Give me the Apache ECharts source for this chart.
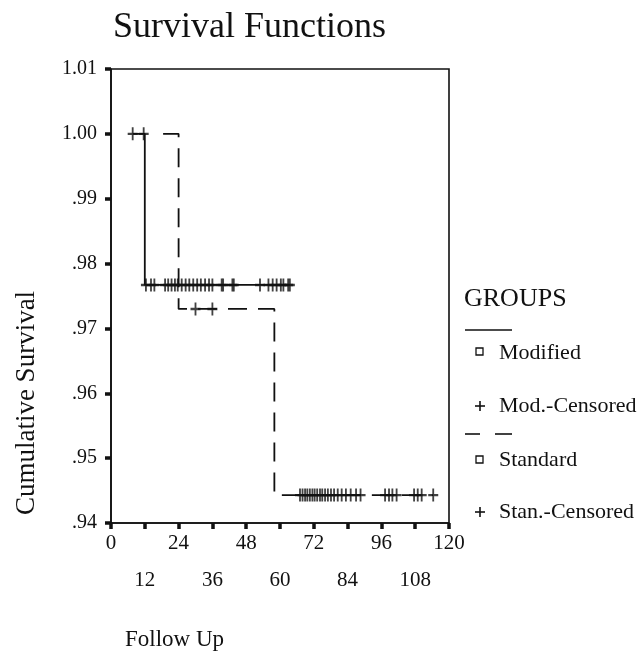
<!DOCTYPE html>
<html>
<head>
<meta charset="utf-8">
<script src="https://cdn.jsdelivr.net/npm/echarts@6/dist/echarts.min.js"></script>
<style>
html,body{margin:0;padding:0;background:#fff;}
#chart{width:641px;height:661px;}
</style>
</head>
<body>
<div id="chart"></div>
<script>
// ---- data ----
const xTicks = [0, 12, 24, 36, 48, 60, 72, 84, 96, 108, 120];
const yTickLabels = ['.94', '.95', '.96', '.97', '.98', '.99', '1.00', '1.01'];
const groupNames = ['Modified', 'Mod.-Censored', 'Standard', 'Stan.-Censored'];

// step curves: times (months) and cumulative survival at/after each time
const modTimes = [7.7, 12, 63.5];
const modSurv  = [1.0, 0.9767, 0.9767];
const stdTimes = [18.5, 24, 58, 114.4];
const stdSurv  = [1.0, 0.973, 0.9443, 0.9443];

// censored observations [time, survival]
const modCensored = [
  [7.7, 1.0], [11.6, 1.0],
  [12.4, 0.9767], [14.2, 0.9767], [15.4, 0.9767], [19.2, 0.9767], [20.3, 0.9767],
  [21.5, 0.9767], [22.7, 0.9767], [23.7, 0.9767], [25.1, 0.9767], [26.5, 0.9767],
  [27.8, 0.9767], [29.2, 0.9767], [30.6, 0.9767], [31.9, 0.9767], [33.4, 0.9767],
  [34.8, 0.9767], [36.0, 0.9767], [39.3, 0.9767], [39.8, 0.9767], [43.1, 0.9767],
  [43.6, 0.9767], [52.9, 0.9767], [55.9, 0.9767], [57.4, 0.9767], [58.8, 0.9767],
  [60.3, 0.9767], [61.2, 0.9767], [62.9, 0.9767], [63.5, 0.9767]
];
const stdCensored = [
  [30.0, 0.973], [36.0, 0.973],
  [67.1, 0.9443], [68.0, 0.9443], [68.9, 0.9443], [69.7, 0.9443], [70.6, 0.9443],
  [71.5, 0.9443], [72.3, 0.9443], [73.2, 0.9443], [74.2, 0.9443], [75.0, 0.9443],
  [76.0, 0.9443], [77.0, 0.9443], [78.1, 0.9443], [79.2, 0.9443], [80.5, 0.9443],
  [81.9, 0.9443], [83.4, 0.9443], [85.1, 0.9443], [87.0, 0.9443], [88.6, 0.9443],
  [97.3, 0.9443], [98.7, 0.9443], [99.9, 0.9443], [101.4, 0.9443], [107.6, 0.9443],
  [108.9, 0.9443], [110.3, 0.9443], [114.4, 0.9443]
];

// ---- build step paths from the curve arrays ----
function stepPoints(times, surv) {
  const pts = [];
  for (let i = 0; i < times.length; i++) {
    if (i > 0) pts.push([times[i], surv[i - 1]]);
    pts.push([times[i], surv[i]]);
  }
  return pts;
}

const INK = '#111111';
const SERIF = '"Liberation Serif", "Times New Roman", serif';
const plusSymbol = 'path://M9,0h4v22h-4z M0,9h22v4h-22z';

const chart = echarts.init(document.getElementById('chart'));
chart.setOption({
  animation: false,
  backgroundColor: '#ffffff',
  title: {
    text: 'Survival Functions',
    left: 108, top: 5,
    textStyle: { fontFamily: SERIF, fontSize: 36, fontWeight: 'normal', color: INK }
  },
  grid: {
    left: 111, top: 69, right: 192, bottom: 138,
    show: true, borderColor: INK, borderWidth: 1.6, backgroundColor: 'transparent'
  },
  xAxis: {
    type: 'value', min: 0, max: 120, interval: 12,
    axisLine: { show: true, lineStyle: { color: INK, width: 1.6 } },
    axisTick: { show: true, length: 6, lineStyle: { color: INK, width: 3.5 } },
    splitLine: { show: false },
    axisLabel: {
      margin: 2,
      fontFamily: SERIF, fontSize: 21, color: INK, lineHeight: 37,
      formatter: function (v) {
        const i = xTicks.indexOf(Math.round(v));
        return (i % 2 === 1 ? '\n' : '') + String(xTicks[i]);
      }
    }
  },
  yAxis: {
    type: 'value', min: 0.94, max: 1.01, interval: 0.01,
    axisLine: { show: true, lineStyle: { color: INK, width: 1.6 } },
    axisTick: { show: true, length: 6, lineStyle: { color: INK, width: 3.5 } },
    splitLine: { show: false },
    axisLabel: {
      margin: 14,
      fontFamily: SERIF, fontSize: 20, color: INK,
      formatter: function (v) {
        const i = Math.round((v - 0.94) / 0.01);
        return yTickLabels[i];
      }
    }
  },
  series: [
    {
      name: groupNames[0], type: 'line', data: stepPoints(modTimes, modSurv),
      symbol: 'none', lineStyle: { color: INK, width: 1.8 }, z: 3
    },
    {
      name: groupNames[2], type: 'line', data: stepPoints(stdTimes, stdSurv),
      symbol: 'none', lineStyle: { color: INK, width: 1.8, type: [19, 11] }, z: 3
    },
    {
      name: groupNames[1], type: 'scatter', data: modCensored,
      symbol: plusSymbol, symbolSize: [10, 13], itemStyle: { color: INK }, z: 4
    },
    {
      name: groupNames[3], type: 'scatter', data: stdCensored,
      symbol: plusSymbol, symbolSize: [10, 13], itemStyle: { color: INK }, z: 4
    }
  ],
  graphic: [
    { type: 'text', x: 27, y: 403, rotation: Math.PI / 2,
      style: { text: 'Cumulative Survival', font: '27px ' + SERIF, fill: INK,
               textAlign: 'center', textVerticalAlign: 'middle' } },
    { type: 'text', x: 125, y: 640,
      style: { text: 'Follow Up', font: '23px ' + SERIF, fill: INK,
               textAlign: 'left', textVerticalAlign: 'middle' } },
    { type: 'text', x: 464, y: 299,
      style: { text: 'GROUPS', font: '26px ' + SERIF, fill: INK,
               textAlign: 'left', textVerticalAlign: 'middle' } },
    { type: 'line', shape: { x1: 465, y1: 330, x2: 512, y2: 330 },
      style: { stroke: INK, lineWidth: 1.6 } },
    { type: 'rect', shape: { x: 476, y: 348, width: 7, height: 7 },
      style: { fill: '#fff', stroke: INK, lineWidth: 1.3 } },
    { type: 'text', x: 499, y: 353,
      style: { text: groupNames[0], font: '22px ' + SERIF, fill: INK,
               textAlign: 'left', textVerticalAlign: 'middle' } },
    { type: 'line', shape: { x1: 475, y1: 406, x2: 485, y2: 406 }, style: { stroke: INK, lineWidth: 1.6 } },
    { type: 'line', shape: { x1: 480, y1: 401, x2: 480, y2: 411 }, style: { stroke: INK, lineWidth: 1.6 } },
    { type: 'text', x: 499, y: 406,
      style: { text: groupNames[1], font: '22px ' + SERIF, fill: INK,
               textAlign: 'left', textVerticalAlign: 'middle' } },
    { type: 'line', shape: { x1: 465, y1: 434, x2: 480, y2: 434 }, style: { stroke: INK, lineWidth: 1.6 } },
    { type: 'line', shape: { x1: 495, y1: 434, x2: 512, y2: 434 }, style: { stroke: INK, lineWidth: 1.6 } },
    { type: 'rect', shape: { x: 476, y: 456, width: 7, height: 7 },
      style: { fill: '#fff', stroke: INK, lineWidth: 1.3 } },
    { type: 'text', x: 499, y: 460,
      style: { text: groupNames[2], font: '22px ' + SERIF, fill: INK,
               textAlign: 'left', textVerticalAlign: 'middle' } },
    { type: 'line', shape: { x1: 475, y1: 512, x2: 485, y2: 512 }, style: { stroke: INK, lineWidth: 1.6 } },
    { type: 'line', shape: { x1: 480, y1: 507, x2: 480, y2: 517 }, style: { stroke: INK, lineWidth: 1.6 } },
    { type: 'text', x: 499, y: 512,
      style: { text: groupNames[3], font: '22px ' + SERIF, fill: INK,
               textAlign: 'left', textVerticalAlign: 'middle' } }
  ]
});
</script>
</body>
</html>
